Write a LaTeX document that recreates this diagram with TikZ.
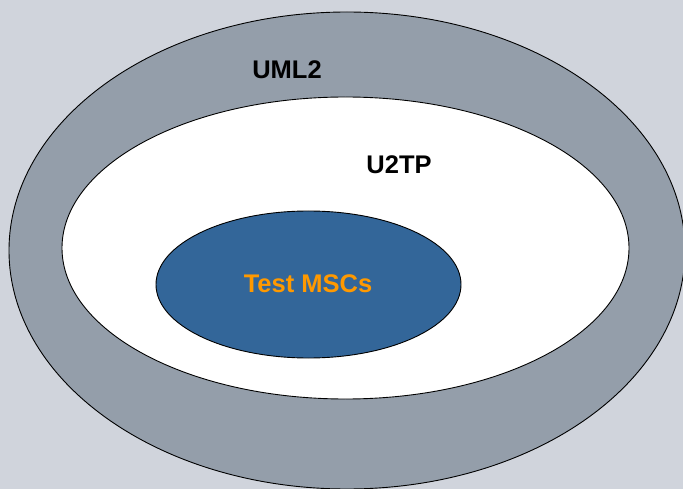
\documentclass[tikz,border=0pt]{standalone}
\usepackage{fontspec}
\setmainfont{Liberation Sans}
\usetikzlibrary{shapes.geometric}
\definecolor{bgcol}{RGB}{208,212,220}
\definecolor{outercol}{RGB}{148,158,170}
\definecolor{bluecol}{RGB}{51,102,153}
\definecolor{orangecol}{RGB}{255,153,0}
\tikzset{
  ring/.style={ellipse, draw=black, line width=0.9pt, inner sep=0pt},
  lbl/.style={anchor=base, inner sep=0pt, font=\fontsize{25.5}{30}\selectfont\bfseries}
}
\begin{document}
\begin{tikzpicture}[x=1pt,y=-1pt]
\useasboundingbox (0,0) rectangle (683,489);
\fill[bgcol] (0,0) rectangle (683,489);
\clip (0,0) rectangle (683,489);
\node[ring, fill=outercol, minimum width=676pt, minimum height=477pt] (uml2) at (347,250.5) {};
\node[ring, fill=white, minimum width=567pt, minimum height=302pt] (u2tp) at (345.5,248) {};
\node[ring, fill=bluecol, minimum width=305pt, minimum height=147pt] (msc) at (308.5,284.5) {};
\node[lbl, text=black] (uml2l) at (287,78.5) {UML2};
\node[lbl, text=black] (u2tpl) at (399,173.5) {U2TP};
\node[lbl, text=orangecol] (mscl) at (308,293) {Test MSCs};
\end{tikzpicture}
\end{document}
